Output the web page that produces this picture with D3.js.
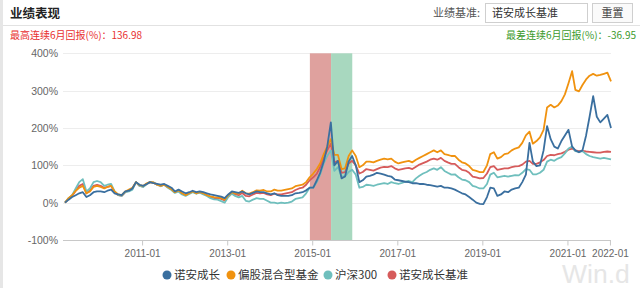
<!DOCTYPE html>
<html>
<head>
<meta charset="utf-8">
<script src="https://cdn.jsdelivr.net/npm/d3@7"></script>
<style>
  body { margin: 0; background: #fff; }
  svg { display: block; font-family: "Noto Sans CJK SC", "Noto Sans", sans-serif; }
</style>
</head>
<body>
<svg width="640" height="288"></svg>
<script>
// series, one value per month from 2009-03 to 2022-01 (%)
var startMonth = "2009-03-10";
var endMonth = "2022-01-10";

var nuoan = [
  0, 8, 15, 20, 25, 28, 15, 20, 28, 30,
  30, 28, 32, 35, 25, 22, 20, 30, 32, 38, 55, 48,
  45, 50, 55, 52, 50, 48, 50, 45, 40, 30, 35, 30,
  25, 28, 32, 28, 30, 28, 25, 22, 20, 18, 16, 12,
  22, 30, 28, 26, 30, 25, 22, 26, 30, 28, 28, 25,
  22, 25, 20, 18, 18, 18, 20, 25, 26, 28, 33, 40,
  40, 60, 80, 110, 150, 215, 100, 112, 65, 70, 110, 125,
  100, 55, 60, 70, 72, 75, 80, 78, 75, 72, 70, 62,
  60, 58, 56, 55, 52, 52, 50, 50, 48, 47, 45, 43,
  45, 40, 40, 38, 35, 30, 25, 22, 15, 8, 0, -3,
  -4, 15, 40, 38, 18, 22, 30, 28, 35, 38, 40, 55,
  75, 160, 110, 98, 100, 140, 205, 170, 150, 145, 165, 180,
  195, 150, 140, 135, 140, 180, 230, 285, 230, 215, 225, 235,
  200
];
var mixed = [
  0, 12, 20, 32, 40, 45, 25, 30, 42, 45,
  42, 38, 42, 45, 30, 22, 20, 30, 35, 40, 55, 47,
  45, 52, 55, 54, 48, 45, 48, 42, 36, 28, 33, 25,
  20, 25, 30, 25, 28, 25, 20, 17, 15, 14, 12, 8,
  20, 28, 25, 24, 32, 25, 24, 28, 33, 32, 34, 30,
  30, 35, 32, 32, 34, 36, 38, 44, 46, 48, 55, 68,
  78, 90, 105, 130, 150, 170, 128, 128, 90, 92, 125, 140,
  125, 95, 100, 110, 110, 108, 112, 115, 118, 116, 118, 110,
  105, 108, 110, 112, 108, 115, 120, 125, 130, 135, 140, 135,
  140, 130, 128, 125, 125, 115, 108, 105, 98, 88, 85, 82,
  82, 100, 130, 135, 118, 122, 130, 132, 140, 145, 148, 160,
  180, 190, 158, 165, 175, 195, 255, 262, 255, 260, 272, 290,
  320, 352, 302, 298, 315, 330, 340, 345, 340, 342, 345, 348,
  325
];
var hs300 = [
  0, 12, 20, 38, 55, 63, 30, 38, 55, 58,
  55, 45, 48, 50, 30, 20, 18, 28, 30, 35, 55, 45,
  42, 50, 55, 54, 48, 44, 48, 40, 34, 26, 30, 22,
  18, 23, 28, 24, 27, 22, 18, 12, 9, 8, 4, 0,
  15, 24, 18, 14, 18, 5, 3, 8, 12, 10, 10, 5,
  0, 0, -2, 0, -1, 0, 3, 10, 12, 14, 25, 40,
  40, 55, 75, 105, 125, 140, 85, 95, 70, 70, 82, 88,
  75, 40, 42, 48, 47, 45, 48, 50, 52, 50, 55, 52,
  50, 53, 56, 58, 55, 65, 72, 78, 82, 88, 92, 88,
  95, 85, 80, 75, 76, 68, 62, 60, 55, 45, 42, 38,
  38, 50, 75, 80, 68, 70, 72, 70, 72, 74, 73, 80,
  90, 88, 76, 76, 80, 88, 110, 115, 112, 118, 122, 132,
  145, 150, 138, 136, 138, 130, 125, 122, 120, 118, 120, 118,
  116
];
var bench = [
  0, 10, 18, 32, 45, 50, 25, 32, 45, 48,
  45, 40, 42, 45, 28, 20, 18, 28, 32, 38, 55, 45,
  43, 50, 55, 53, 48, 45, 48, 42, 36, 28, 32, 25,
  20, 25, 30, 25, 28, 24, 20, 15, 12, 12, 10, 6,
  18, 26, 22, 20, 26, 18, 17, 22, 26, 25, 26, 22,
  20, 24, 22, 22, 24, 26, 28, 34, 38, 40, 48, 60,
  68, 78, 95, 120, 140, 158, 108, 112, 80, 82, 105, 112,
  100, 78, 82, 90, 88, 86, 90, 94, 96, 95, 98, 92,
  88, 90, 92, 93, 90, 96, 102, 106, 110, 115, 118, 115,
  120, 112, 108, 104, 104, 95, 88, 86, 80, 70, 68, 65,
  66, 78, 95, 98, 88, 90, 92, 92, 95, 97, 98, 102,
  110, 112, 104, 104, 108, 114, 125, 128, 127, 130, 132, 136,
  142, 145, 140, 138, 139, 137, 136, 135, 134, 134, 136, 137,
  136
];

var seriesNames = ["诺安成长", "偏股混合型基金", "沪深300", "诺安成长基准"];
var seriesColors = ["#3a6f9f", "#f0920f", "#6fbfbd", "#d65b5b"];
var xTicks = ["2011-01", "2013-01", "2015-01", "2017-01", "2019-01", "2021-01", "2022-01"];
var yTicks = [-100, 0, 100, 200, 300, 400];
// best / worst 6 month windows
var bestWindow = ["2014-12-12", "2015-06-12"];
var worstWindow = ["2015-06-12", "2015-12-11"];

var svg = d3.select("svg");
var parse = d3.timeParse("%Y-%m-%d");
var parseMonth = d3.timeParse("%Y-%m");

var dates = d3.timeMonth.range(d3.timeMonth.floor(parse(startMonth)), parse(endMonth))
  .map(function(d) { return d3.timeDay.offset(d, 9); });

var x = d3.scaleTime().domain([parse(startMonth), parse(endMonth)]).range([65, 611]);
var y = d3.scaleLinear().domain([-100, 400]).range([240, 53.3]);

// page chrome
svg.append("rect").attr("x", 0).attr("y", 0).attr("width", 3).attr("height", 288).attr("fill", "#e6e6e6");
svg.append("line").attr("x1", 3).attr("x2", 640).attr("y1", 25.5).attr("y2", 25.5).attr("stroke", "#e2e2e2");

svg.append("text").attr("x", 10).attr("y", 18).attr("font-size", 12.5).attr("font-weight", "bold")
  .attr("fill", "#222").text("业绩表现");
svg.append("text").attr("x", 480).attr("y", 17).attr("font-size", 11).attr("text-anchor", "end")
  .attr("fill", "#555").text("业绩基准:");
svg.append("rect").attr("x", 485.5).attr("y", 3.5).attr("width", 102).attr("height", 19)
  .attr("fill", "#fff").attr("stroke", "#cfcfcf");
svg.append("text").attr("x", 492).attr("y", 17).attr("font-size", 11).attr("fill", "#333").text("诺安成长基准");
svg.append("rect").attr("x", 592.5).attr("y", 3.5).attr("width", 40).attr("height", 19)
  .attr("fill", "#fafafa").attr("stroke", "#cfcfcf");
svg.append("text").attr("x", 612.5).attr("y", 17).attr("font-size", 11).attr("text-anchor", "middle")
  .attr("fill", "#444").text("重置");

svg.append("text").attr("x", 10).attr("y", 39).attr("font-size", 10).attr("fill", "#e8302f")
  .text("最高连续6月回报(%)：136.98");
svg.append("text").attr("x", 636).attr("y", 39).attr("font-size", 10).attr("fill", "#3c9a2c")
  .attr("text-anchor", "end").text("最差连续6月回报(%)：-36.95");

// watermark
svg.append("text").attr("x", 562).attr("y", 282.5).attr("font-size", 26.5).attr("fill", "#e6e6e6")
  .attr("font-family", "Liberation Sans, Arial, sans-serif").text("Win.d");

// gridlines
svg.append("g").selectAll("line").data(yTicks.filter(function(d) { return d > -100; }))
  .enter().append("line")
  .attr("x1", 63).attr("x2", 611)
  .attr("y1", function(d) { return Math.round(y(d)) + 0.5; })
  .attr("y2", function(d) { return Math.round(y(d)) + 0.5; })
  .attr("stroke", "#ededed");

// highlighted windows
svg.append("rect")
  .attr("x", x(parse(bestWindow[0]))).attr("width", x(parse(bestWindow[1])) - x(parse(bestWindow[0])))
  .attr("y", y(400)).attr("height", y(-100) - y(400)).attr("fill", "#dfa19e");
svg.append("rect")
  .attr("x", x(parse(worstWindow[0]))).attr("width", x(parse(worstWindow[1])) - x(parse(worstWindow[0])))
  .attr("y", y(400)).attr("height", y(-100) - y(400)).attr("fill", "#a8d8bf");

// axes
var yAxis = d3.axisLeft(y).tickValues(yTicks).tickSize(0).tickPadding(5)
  .tickFormat(function(d) { return d + "%"; });
var gy = svg.append("g").attr("transform", "translate(63,0)").call(yAxis);
gy.select(".domain").remove();
gy.selectAll("text").attr("font-size", 10.5).attr("fill", "#666").attr("font-family", null);

var xAxis = d3.axisBottom(x).tickValues(xTicks.map(parseMonth)).tickSize(5).tickPadding(4)
  .tickFormat(d3.timeFormat("%Y-%m"));
var gx = svg.append("g").attr("transform", "translate(0," + (Math.round(y(-100)) + 0.5) + ")").call(xAxis);
gx.select(".domain").attr("stroke", "#c8c8c8").attr("d", "M63,0H611");
gx.selectAll(".tick line").attr("stroke", "#c8c8c8");
gx.selectAll("text").attr("font-size", 10).attr("fill", "#666").attr("font-family", null);

// lines
var allSeries = [nuoan, mixed, hs300, bench];
var line = d3.line()
  .x(function(d, i) { return x(dates[i]); })
  .y(function(d) { return y(d); });

[3, 2, 1, 0].forEach(function(k) {
  svg.append("path")
    .datum(allSeries[k])
    .attr("d", line)
    .attr("fill", "none")
    .attr("stroke", seriesColors[k])
    .attr("stroke-width", 1.8)
    .attr("stroke-linejoin", "round");
});

// legend
var legendX = [167, 231, 328, 392];
var lg = svg.append("g").selectAll("g").data(seriesNames).enter().append("g")
  .attr("transform", function(d, i) { return "translate(" + legendX[i] + ",275)"; });
lg.append("circle").attr("r", 4.5).attr("fill", function(d, i) { return seriesColors[i]; });
lg.append("text").attr("x", 7).attr("y", 4).attr("font-size", 11.5).attr("fill", "#333")
  .text(function(d) { return d; });
</script>
</body>
</html>
